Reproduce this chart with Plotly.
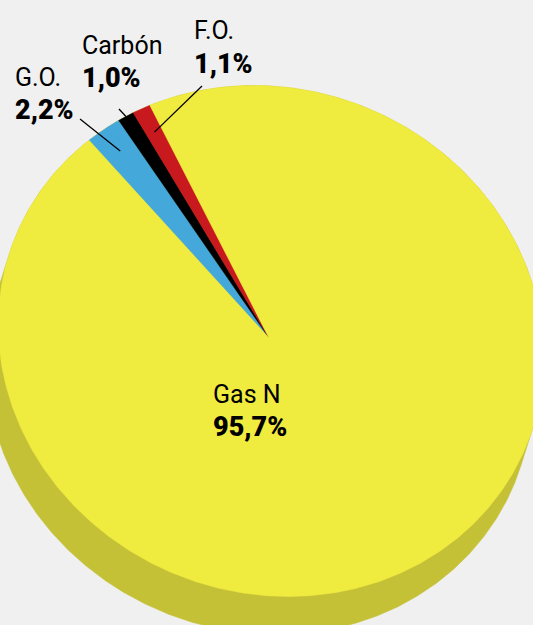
import numpy as np
import plotly.graph_objects as go

# Energy sources and their share of the mix (%)
sources = ["G.O.", "Carbón", "F.O.", "Gas N"]
shares = [2.2, 1.0, 1.1, 95.7]
slice_colors = ["#45A8DB", "#000000", "#C8191F", "#F0EB3F"]
side_color = "#C4C137"
bg_color = "#F0F0F0"

# Canvas and projected-disc geometry (pixel units)
W, H = 533, 625
CX, CY = 271, 341          # centre of the top ellipse
APEX = (269, 338)          # point where the slices meet
RA, RB = 276, 252          # semi-axes of the top ellipse
TILT = np.radians(22)      # rotation of the ellipse
DEPTH = (-12, 38)          # offset of the disc's lower face
START = np.radians(-152.1) # parameter angle where the first slice begins

# Label placement: (x, name y, value y) and leader-line outer ends
label_pos = {
    "G.O.": (13, 77, 110),
    "Carbón": (80, 45, 78),
    "F.O.": (192, 30, 64),
    "Gas N": (211, 394, 427),
}
leader_out = {"G.O.": (80, 119), "Carbón": (119, 109), "F.O.": (202, 86)}
leader_frac = {"G.O.": 0.9, "Carbón": 1.0, "F.O.": 0.9}


def ellipse_xy(t, frac=1.0, cx=CX, cy=CY):
    lx = RA * frac * np.cos(t)
    ly = RB * frac * np.sin(t)
    x = cx + lx * np.cos(TILT) - ly * np.sin(TILT)
    y = cy + lx * np.sin(TILT) + ly * np.cos(TILT)
    return x, y


fig = go.Figure()

# Side of the disc: outline of the top ellipse swept by DEPTH
t_all = np.linspace(0, 2 * np.pi, 721)
ex, ey = ellipse_xy(t_all)
nlx, nly = np.cos(t_all) / RA, np.sin(t_all) / RB
nx = nlx * np.cos(TILT) - nly * np.sin(TILT)
ny = nlx * np.sin(TILT) + nly * np.cos(TILT)
facing = (nx * DEPTH[0] + ny * DEPTH[1]) > 0
sx = np.where(facing, ex + DEPTH[0], ex)
sy = np.where(facing, ey + DEPTH[1], ey)
fig.add_trace(go.Scatter(x=sx, y=sy, mode="lines", fill="toself",
                         fillcolor=side_color, line=dict(width=0.5, color=side_color),
                         hoverinfo="skip", showlegend=False))

# Top face slices
fractions = np.array(shares) / sum(shares)
bounds = START + 2 * np.pi * np.concatenate([[0], np.cumsum(fractions)])
mids = {}
for name, col, t0, t1 in zip(sources, slice_colors, bounds[:-1], bounds[1:]):
    n = max(4, int(np.degrees(t1 - t0) * 2))
    ts = np.linspace(t0, t1, n)
    ax_, ay_ = ellipse_xy(ts)
    xs = np.concatenate([[APEX[0]], ax_, [APEX[0]]])
    ys = np.concatenate([[APEX[1]], ay_, [APEX[1]]])
    fig.add_trace(go.Scatter(x=xs, y=ys, mode="lines", fill="toself",
                             fillcolor=col, line=dict(width=0.5, color=col),
                             hoverinfo="skip", showlegend=False))
    mids[name] = (t0 + t1) / 2

# Leader lines from small slices to their labels
for name, (ox, oy) in leader_out.items():
    ix, iy = ellipse_xy(mids[name], leader_frac[name])
    fig.add_shape(type="line", x0=float(ix), y0=float(iy), x1=ox, y1=oy,
                  line=dict(color="#000000", width=1.3))

# Labels: source name and its share
font_name = dict(family="Roboto, sans-serif", size=25, color="#000000", weight=400)
font_val = dict(family="Roboto, sans-serif", size=27, color="#000000", weight=900)
for name, share in zip(sources, shares):
    lx, ny_, vy = label_pos[name]
    value_text = f"{share:.1f}".replace(".", ",") + "%"
    fig.add_annotation(x=lx, y=ny_, text=name, showarrow=False,
                       xanchor="left", yanchor="middle", font=font_name)
    fig.add_annotation(x=lx, y=vy, text=value_text, showarrow=False,
                       xanchor="left", yanchor="middle", font=font_val)

fig.update_layout(
    width=W, height=H,
    margin=dict(l=0, r=0, t=0, b=0),
    paper_bgcolor=bg_color, plot_bgcolor=bg_color,
    xaxis=dict(range=[0, W], visible=False, fixedrange=True),
    yaxis=dict(range=[H, 0], visible=False, fixedrange=True),
)

fig.write_html("out.html")
